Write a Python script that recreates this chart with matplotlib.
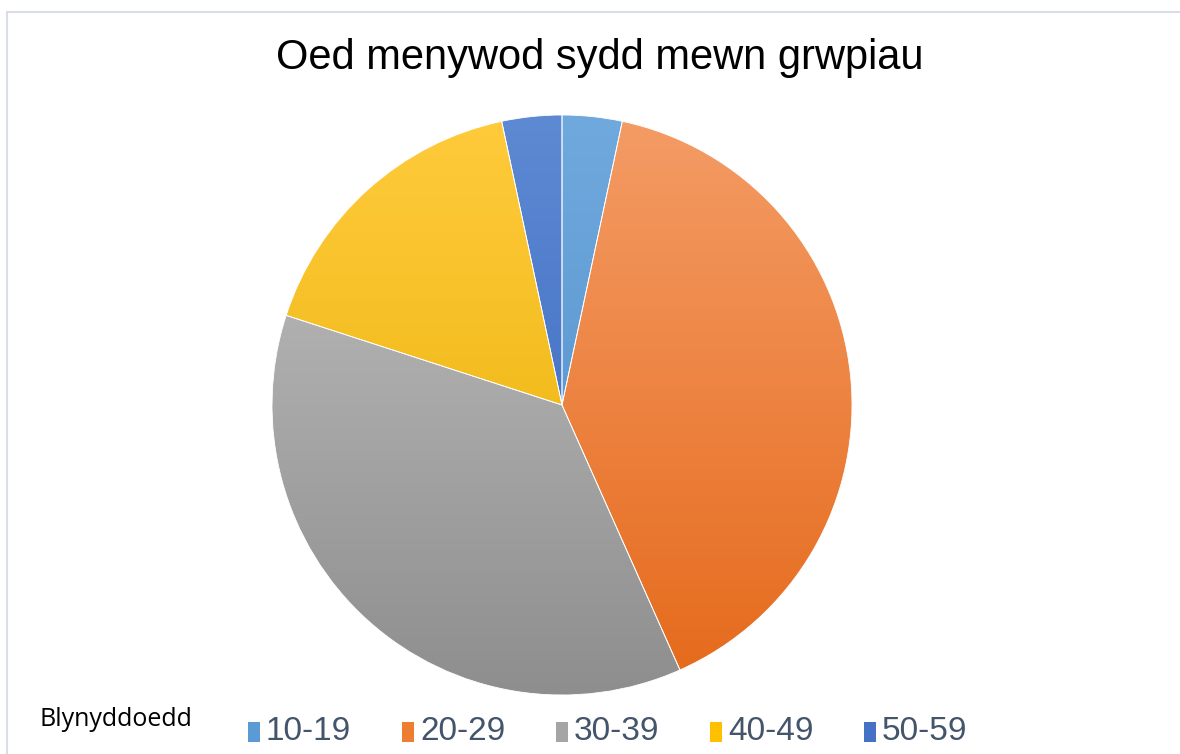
import numpy as np
import matplotlib
matplotlib.use('Agg')
import matplotlib.pyplot as plt
from matplotlib.colors import LinearSegmentedColormap
from matplotlib.patches import Rectangle


title = 'Oed menywod sydd mewn grwpiau'
legend_title = 'Blynyddoedd'
labels = ['10-19', '20-29', '30-39', '40-49', '50-59']
values = [1, 12, 11, 5, 1]

# light (top) / dark (bottom) shades of each slice colour
top_colors = ['#70A9DD', '#F49C66', '#C2C2C2', '#FFCB3C', '#5E8AD3']
bottom_colors = ['#4C8BC9', '#E5691A', '#8E8E8E', '#E6AE00', '#3261BD']
legend_colors = ['#5B9BD5', '#ED7D31', '#A5A5A5', '#FFC000', '#4472C4']


W, H = 1180, 754
fig = plt.figure(figsize=(W / 100, H / 100), dpi=100)
fig.patch.set_facecolor('white')

# chart area frame
fig.patches.append(Rectangle((7 / W, -0.01), 1.1, 1 - 12 / H + 0.01,
                             transform=fig.transFigure, fill=False,
                             edgecolor='#D9DEE6', linewidth=1.5))

# pie axes: centre (562, 405), radius 290 px
cx, cy, r = 562, 405, 290
ax = fig.add_axes([(cx - r) / W, (H - cy - r) / H, 2 * r / W, 2 * r / H])
ax.set_xlim(-1, 1)
ax.set_ylim(-1, 1)
ax.set_aspect('equal')
ax.axis('off')

wedges, _ = ax.pie(values, startangle=90, counterclock=False, radius=1,
                   colors=legend_colors,
                   wedgeprops=dict(linewidth=0.6, edgecolor='white'))

grad = np.linspace(0, 1, 256).reshape(-1, 1)
for w, c0, c1 in zip(wedges, top_colors, bottom_colors):
    cmap = LinearSegmentedColormap.from_list('g', [c0, c1])
    im = ax.imshow(grad, cmap=cmap, extent=[-1, 1, -1, 1], origin='upper',
                   aspect='auto', zorder=w.get_zorder() + 0.1)
    im.set_clip_path(w)
    w.set_facecolor('none')
    w.set_zorder(w.get_zorder() + 0.2)
ax.set_xlim(-1, 1)
ax.set_ylim(-1, 1)

fig.text(600 / W, 1 - 58 / H, title, ha='center', va='center',
         fontsize=30, family='Liberation Sans', color='black')

fig.text(40 / W, 1 - 720 / H, legend_title, ha='left', va='center',
         fontsize=18, family='Open Sans', color='black')

# legend
sq_x = [248, 402, 556, 710, 864]
for x, lab, col in zip(sq_x, labels, legend_colors):
    fig.patches.append(Rectangle((x / W, 1 - 742 / H), 12 / W, 20 / H,
                                 transform=fig.transFigure, facecolor=col,
                                 edgecolor='none'))
    fig.text((x + 18) / W, 1 - 731 / H, lab, ha='left', va='center',
             fontsize=24, family='Liberation Sans', color='#44546A')

fig.savefig('out.png', dpi=100)
